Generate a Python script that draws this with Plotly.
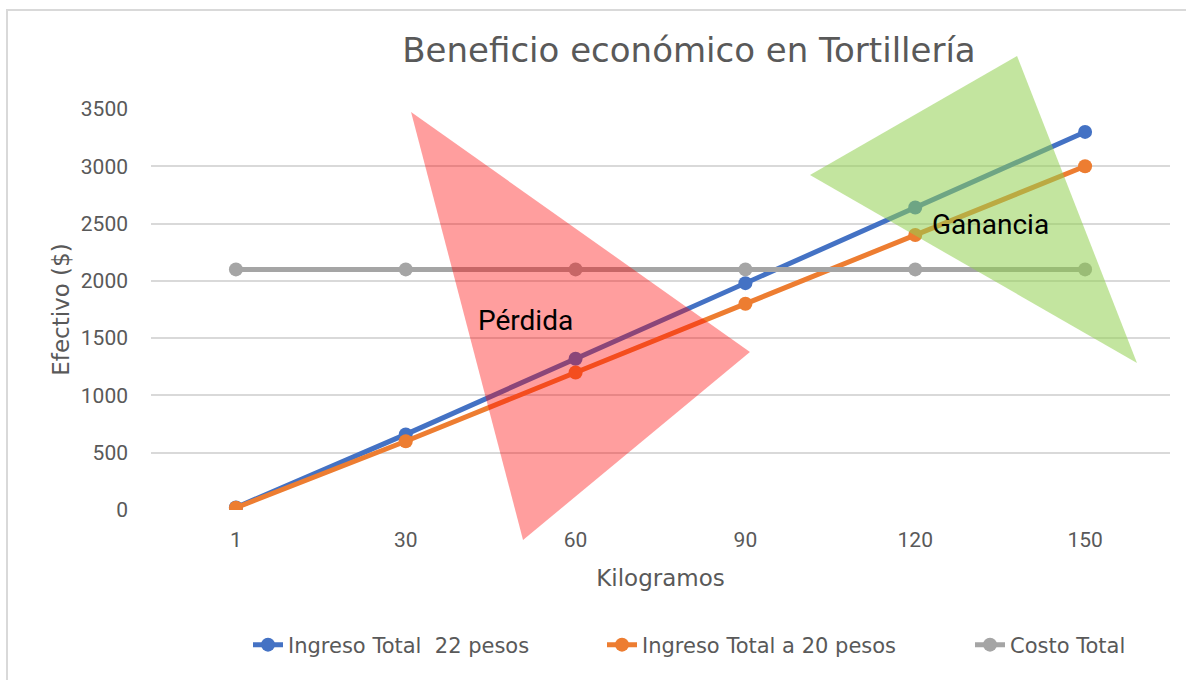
import plotly.graph_objects as go

# Data
kilogramos = ["1", "30", "60", "90", "120", "150"]
ingreso_22 = [22, 660, 1320, 1980, 2640, 3300]
ingreso_20 = [20, 600, 1200, 1800, 2400, 3000]
costo_total = [2100, 2100, 2100, 2100, 2100, 2100]

series = [
    ("Ingreso Total  22 pesos", ingreso_22, "#4472C4", "legend"),
    ("Ingreso Total a 20 pesos", ingreso_20, "#ED7D31", "legend2"),
    ("Costo Total", costo_total, "#A5A5A5", "legend3"),
]

W, H = 1186, 680
ML, MR, MT, MB = 151, 16, 109, 170
PW, PH = W - ML - MR, H - MT - MB


def to_paper(px, py):
    """Convert a page pixel position to paper coordinates."""
    return (px - ML) / PW, (H - MB - py) / PH


def tri_path(pts):
    coords = [to_paper(x, y) for x, y in pts]
    return "M " + " L ".join(f"{x:.4f},{y:.4f}" for x, y in coords) + " Z"


fig = go.Figure()
for name, vals, color, leg in series:
    fig.add_trace(go.Scatter(
        x=kilogramos, y=vals, name=name, mode="lines+markers",
        line=dict(color=color, width=5),
        marker=dict(color=color, size=14),
        legend=leg, showlegend=True,
    ))

grey = "#595959"
font_wide = "'DejaVu Sans', sans-serif"
font_tick = "Roboto, sans-serif"

# Chart frame
x0, y0 = to_paper(7, 10)
x1, y1 = to_paper(1200, 700)
shapes = [
    dict(type="rect", xref="paper", yref="paper", x0=x0, y0=y1, x1=x1, y1=y0,
         line=dict(color="#D9D9D9", width=2), fillcolor="rgba(0,0,0,0)", layer="below"),
    # Loss region
    dict(type="path", xref="paper", yref="paper",
         path=tri_path([(411, 112), (750, 352), (523, 540)]),
         fillcolor="#FF0000", opacity=0.38, line=dict(width=0), layer="above"),
    # Profit region
    dict(type="path", xref="paper", yref="paper",
         path=tri_path([(810, 175), (1017, 56), (1137, 363)]),
         fillcolor="#92D050", opacity=0.55, line=dict(width=0), layer="above"),
]

px_, py_ = to_paper(525, 320)
gx_, gy_ = to_paper(990, 224)
annotations = [
    dict(text="Pérdida", xref="paper", yref="paper", x=px_, y=py_, showarrow=False,
         font=dict(family=font_tick, size=28, color="#000000"), xanchor="center", yanchor="middle"),
    dict(text="Ganancia", xref="paper", yref="paper", x=gx_, y=gy_, showarrow=False,
         font=dict(family=font_tick, size=28, color="#000000"), xanchor="center", yanchor="middle"),
]


def legend_at(px):
    return dict(orientation="h", x=px / W, xanchor="left", xref="container",
                y=1 - 645 / H, yanchor="middle", yref="container",
                font=dict(family=font_wide, size=21, color=grey))


fig.update_layout(
    width=W, height=H,
    showlegend=True,
    margin=dict(l=ML, r=MR, t=MT, b=MB),
    paper_bgcolor="white", plot_bgcolor="white",
    title=dict(text="Beneficio económico en Tortillería", x=689 / W, xanchor="center",
               y=1 - 50 / H, yanchor="middle",
               font=dict(family=font_wide, size=34, color=grey)),
    font=dict(family=font_wide, color=grey),
    xaxis=dict(
        type="category", range=[-0.5, 5.5], showgrid=False, zeroline=False, showline=False,
        ticks="", tickfont=dict(family=font_tick, size=21, color=grey), ticklabelstandoff=15,
        title=dict(text="Kilogramos", font=dict(family=font_wide, size=23, color=grey), standoff=18),
    ),
    yaxis=dict(
        range=[0, 3500], dtick=500, showgrid=True, gridcolor="#D9D9D9", gridwidth=1.5,
        zeroline=False, showline=False, ticks="",
        tickfont=dict(family=font_tick, size=21, color=grey), ticklabelstandoff=22,
        title=dict(text="Efectivo ($)", font=dict(family=font_wide, size=23, color=grey), standoff=4),
    ),
    legend=legend_at(248),
    legend2=legend_at(602),
    legend3=legend_at(970),
    shapes=shapes,
    annotations=annotations,
)

fig.write_html("out.html")
